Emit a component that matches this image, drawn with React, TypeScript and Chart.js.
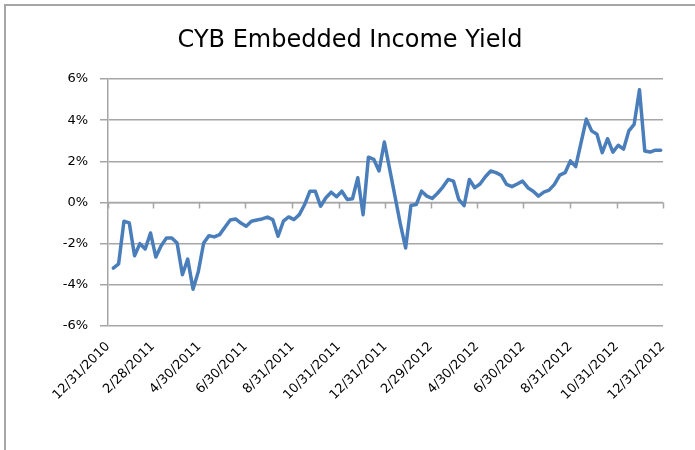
import React, { useEffect, useRef } from "react";
import { Chart, registerables } from "chart.js";

Chart.register(...registerables);

const TITLE = "CYB Embedded Income Yield";
const START = "12/31/2010";
const END = "12/31/2012";
const tickDates = [
  "12/31/2010", "2/28/2011", "4/30/2011", "6/30/2011", "8/31/2011", "10/31/2011",
  "12/31/2011", "2/29/2012", "4/30/2012", "6/30/2012", "8/31/2012", "10/31/2012", "12/31/2012",
];
const yMin = -6;
const yMax = 6;
const yStep = 2;
// weekly observations, first one one week after START
const weeklyYield = [
  -3.19, -2.98, -0.91, -0.99, -2.59, -2.0, -2.26, -1.48, -2.65, -2.1,
  -1.72, -1.72, -1.97, -3.51, -2.75, -4.21, -3.35, -1.97, -1.61, -1.67,
  -1.56, -1.2, -0.85, -0.8, -1.0, -1.15, -0.91, -0.85, -0.8, -0.71,
  -0.83, -1.64, -0.91, -0.7, -0.83, -0.59, -0.1, 0.55, 0.55, -0.18,
  0.23, 0.5, 0.28, 0.55, 0.15, 0.18, 1.2, -0.59, 2.2, 2.1,
  1.53, 2.94, 1.62, 0.3, -1.04, -2.21, -0.15, -0.1, 0.55, 0.31,
  0.2, 0.45, 0.75, 1.12, 1.04, 0.15, -0.15, 1.12, 0.72, 0.9,
  1.25, 1.53, 1.45, 1.32, 0.88, 0.77, 0.9, 1.04, 0.72, 0.55,
  0.31, 0.5, 0.6, 0.88, 1.33, 1.45, 2.02, 1.74, 2.9, 4.05,
  3.48, 3.32, 2.42, 3.1, 2.45, 2.78, 2.59, 3.48, 3.8, 5.48,
  2.5, 2.45, 2.54, 2.54,
];

const toUTC = (s: string) => {
  const [m, d, y] = s.split("/").map(Number);
  return Date.UTC(y, m - 1, d);
};
const dayOffset = (s: string) => Math.round((toUTC(s) - toUTC(START)) / 86400000);

const FONT = "'DejaVu Sans', sans-serif";
const GRID = "#a6a6a6";
const LINE = "#4a7ebb";

export default function App() {
  const ref = useRef<HTMLCanvasElement>(null);
  useEffect(() => {
    const points = weeklyYield.map((v, i) => ({ x: (i + 1) * 7, y: v }));
    const labelMap: Record<number, string> = {};
    tickDates.forEach((d) => (labelMap[dayOffset(d)] = d));

    const decor = {
      id: "decor",
      beforeDraw(chart: any) {
        const ctx = chart.ctx;
        ctx.save();
        ctx.fillStyle = "#000";
        ctx.font = `24px ${FONT}`;
        ctx.textAlign = "center";
        ctx.textBaseline = "middle";
        ctx.fillText(TITLE, 350, 41);
        ctx.restore();
      },
      beforeDatasetsDraw(chart: any) {
        const ctx = chart.ctx;
        const xs = chart.scales.x;
        const ys = chart.scales.y;
        const y0 = ys.getPixelForValue(0);
        ctx.save();
        ctx.strokeStyle = GRID;
        ctx.lineWidth = 1.5;
        ctx.beginPath();
        ctx.moveTo(chart.chartArea.left, y0);
        ctx.lineTo(chart.chartArea.right, y0);
        tickDates.forEach((d) => {
          const x = Math.round(xs.getPixelForValue(dayOffset(d))) + 0.5;
          ctx.moveTo(x, y0);
          ctx.lineTo(x, y0 + 6);
        });
        ctx.stroke();
        ctx.restore();
      },
    };

    const chart = new Chart(ref.current!, {
      type: "line",
      data: {
        datasets: [
          {
            data: points,
            borderColor: LINE,
            borderWidth: 3.5,
            pointRadius: 0,
            tension: 0,
            borderJoinStyle: "round",
            borderCapStyle: "round",
          },
        ],
      },
      options: {
        animation: false,
        responsive: false,
        layout: { padding: { left: 0, right: 32, top: 79, bottom: 0 } },
        plugins: { legend: { display: false }, tooltip: { enabled: false }, title: { display: false } },
        scales: {
          x: {
            type: "linear",
            min: 0,
            max: dayOffset(END),
            afterBuildTicks: (s: any) => {
              s.ticks = tickDates.map((d) => ({ value: dayOffset(d) }));
            },
            afterFit: (s: any) => {
              s.height = 124;
            },
            grid: { display: false },
            border: { display: false },
            ticks: {
              autoSkip: false,
              minRotation: 45,
              maxRotation: 45,
              padding: 5,
              color: "#000",
              font: { family: FONT, size: 13 },
              callback: (v: any) => labelMap[v] ?? "",
            },
          },
          y: {
            min: yMin,
            max: yMax,
            afterFit: (s: any) => {
              s.width = 108;
            },
            grid: { color: GRID, lineWidth: 1.5, tickLength: 8 },
            border: { display: true, color: GRID, width: 1.5 },
            ticks: {
              stepSize: yStep,
              padding: 12,
              color: "#000",
              font: { family: FONT, size: 13 },
              callback: (v: any) => `${v}%`,
            },
          },
        },
      },
      plugins: [decor],
    });
    return () => chart.destroy();
  }, []);
  return (
    <div style={{ position: "absolute", left: 0, top: 0, width: 695, height: 450, background: "#fff", overflow: "hidden" }}>
      <canvas ref={ref} width={695} height={450} style={{ width: 695, height: 450, display: "block" }} />
      <div
        style={{
          position: "absolute",
          left: 4,
          top: 4,
          width: 720,
          height: 480,
          borderLeft: `2px solid ${GRID}`,
          borderTop: `2px solid ${GRID}`,
          pointerEvents: "none",
        }}
      />
    </div>
  );
}
